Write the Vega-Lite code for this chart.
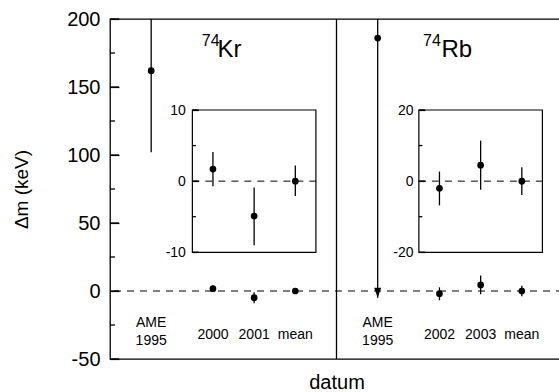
{
  "$schema": "https://vega.github.io/schema/vega-lite/v6.json",
  "width": 453,
  "height": 340,
  "autosize": {"type": "none"},
  "padding": {"left": 110, "top": 19, "right": 0, "bottom": 33},
  "config": {
    "font": "Liberation Sans",
    "view": {"stroke": "#000", "strokeWidth": 1.3},
    "axis": {"grid": false, "domain": false, "zindex": 1, "labelColor": "#000", "tickColor": "#000", "titleColor": "#000", "titleFontWeight": "normal", "labelFont": "Liberation Sans", "titleFont": "Liberation Sans", "tickWidth": 1.2}
  },
  "data": {"values": [{}]},
  "datasets": {
    "meas": [
      {"panel": "Kr", "label": "AME", "x": 1, "v": 162, "lo": 102, "hi": 222},
      {"panel": "Kr", "label": "2000", "x": 2.5, "v": 1.7, "lo": -0.7, "hi": 4.1},
      {"panel": "Kr", "label": "2001", "x": 3.5, "v": -4.9, "lo": -9, "hi": -0.9},
      {"panel": "Kr", "label": "mean", "x": 4.5, "v": 0, "lo": -2.1, "hi": 2.2},
      {"panel": "Rb", "label": "AME", "x": 6.5, "v": 186, "lo": -5, "hi": 380},
      {"panel": "Rb", "label": "2002", "x": 8, "v": -2, "lo": -6.8, "hi": 2.7},
      {"panel": "Rb", "label": "2003", "x": 9, "v": 4.5, "lo": -2.4, "hi": 11.4},
      {"panel": "Rb", "label": "mean", "x": 10, "v": 0, "lo": -3.9, "hi": 3.9}
    ],
    "yticks": [
      {"axis": "main", "tv": -50, "major": true},
      {"axis": "main", "tv": -25, "major": false},
      {"axis": "main", "tv": 0, "major": true},
      {"axis": "main", "tv": 25, "major": false},
      {"axis": "main", "tv": 50, "major": true},
      {"axis": "main", "tv": 75, "major": false},
      {"axis": "main", "tv": 100, "major": true},
      {"axis": "main", "tv": 125, "major": false},
      {"axis": "main", "tv": 150, "major": true},
      {"axis": "main", "tv": 175, "major": false},
      {"axis": "main", "tv": 200, "major": true},
      {"axis": "Kr", "tv": -10, "major": true},
      {"axis": "Kr", "tv": -5, "major": false},
      {"axis": "Kr", "tv": 0, "major": true},
      {"axis": "Kr", "tv": 5, "major": false},
      {"axis": "Kr", "tv": 10, "major": true},
      {"axis": "Rb", "tv": -20, "major": true},
      {"axis": "Rb", "tv": -10, "major": false},
      {"axis": "Rb", "tv": 0, "major": true},
      {"axis": "Rb", "tv": 10, "major": false},
      {"axis": "Rb", "tv": 20, "major": true}
    ],
    "labels": [
      {"kind": "cat", "x": 1, "y": -23.5, "text": "AME\n1995"},
      {"kind": "cat", "x": 2.5, "y": -32.4, "text": "2000"},
      {"kind": "cat", "x": 3.5, "y": -32.4, "text": "2001"},
      {"kind": "cat", "x": 4.5, "y": -32.4, "text": "mean"},
      {"kind": "cat", "x": 6.5, "y": -23.5, "text": "AME\n1995"},
      {"kind": "cat", "x": 8, "y": -32.4, "text": "2002"},
      {"kind": "cat", "x": 9, "y": -32.4, "text": "2003"},
      {"kind": "cat", "x": 10, "y": -32.4, "text": "mean"},
      {"kind": "big", "x": 2.61, "y": 172, "text": "Kr"},
      {"kind": "sup", "x": 2.23, "y": 180, "text": "74"},
      {"kind": "big", "x": 8.05, "y": 172, "text": "Rb"},
      {"kind": "sup", "x": 7.6, "y": 180, "text": "74"}
    ]
  },
  "layer": [
    {
      "layer": [
        {
          "mark": {"type": "rule", "strokeDash": [7, 6], "color": "#000", "strokeWidth": 1},
          "encoding": {
            "y": {"datum": 0, "type": "quantitative",
              "scale": {"domain": [-50, 200], "nice": false, "zero": false},
              "axis": {
                "values": [-50, 0, 50, 100, 150, 200],
                "labelExpr": "'' + datum.value",
                "labelFontSize": 20,
                "offset": -9,
                "tickSize": 9,
                "labelPadding": 10,
                "title": "Δm (keV)",
                "titleFontSize": 19,
                "titleX": -98,
                "titleY": 170,
                "titleAlign": "center",
                "titleBaseline": "middle",
                "titleAngle": -90
              }
            }
          }
        },
        {
          "mark": {"type": "rule", "color": "#000", "strokeWidth": 1.3},
          "encoding": {
            "x": {"datum": 5.5, "type": "quantitative",
              "scale": {"domain": [0, 11], "nice": false, "zero": false},
              "axis": {"title": "datum", "titleFontSize": 20, "labels": false, "ticks": false, "domain": false, "titlePadding": 13}
            }
          }
        },
        {
          "data": {"name": "yticks"},
          "transform": [{"filter": "datum.axis === 'main' && datum.major"}],
          "mark": {"type": "tick", "orient": "horizontal", "color": "#000", "size": 9, "thickness": 1.3, "opacity": 1},
          "encoding": {
            "x": {"datum": 0.109, "type": "quantitative"},
            "y": {"field": "tv", "type": "quantitative"}
          }
        },
        {
          "data": {"name": "yticks"},
          "transform": [{"filter": "datum.axis === 'main' && !datum.major"}],
          "mark": {"type": "tick", "orient": "horizontal", "color": "#000", "size": 5, "thickness": 1.3, "opacity": 1},
          "encoding": {
            "x": {"datum": 0.061, "type": "quantitative"},
            "y": {"field": "tv", "type": "quantitative"}
          }
        },
        {
          "data": {"name": "meas"},
          "mark": {"type": "rule", "clip": true, "strokeWidth": 1.3, "color": "#000"},
          "encoding": {
            "x": {"field": "x", "type": "quantitative"},
            "y": {"field": "lo", "type": "quantitative"},
            "y2": {"field": "hi"}
          }
        },
        {
          "data": {"name": "meas"},
          "mark": {"type": "point", "filled": true, "size": 45, "color": "#000", "opacity": 1},
          "encoding": {
            "x": {"field": "x", "type": "quantitative"},
            "y": {"field": "v", "type": "quantitative"}
          }
        },
        {
          "data": {"name": "meas"},
          "transform": [{"filter": "datum.label === 'AME' && datum.panel === 'Rb'"}],
          "mark": {"type": "point", "filled": true, "size": 100, "shape": "M-0.7,-2L0.7,-2L0,0Z", "color": "#000", "opacity": 1},
          "encoding": {
            "x": {"field": "x", "type": "quantitative"},
            "y": {"field": "lo", "type": "quantitative"}
          }
        },
        {
          "data": {"name": "labels"},
          "transform": [{"filter": "datum.kind === 'cat'"}],
          "mark": {"type": "text", "fontSize": 14, "align": "center", "baseline": "middle", "lineBreak": "\n", "lineHeight": 18, "color": "#000"},
          "encoding": {
            "x": {"field": "x", "type": "quantitative"},
            "y": {"field": "y", "type": "quantitative"},
            "text": {"field": "text"}
          }
        },
        {
          "data": {"name": "labels"},
          "transform": [{"filter": "datum.kind === 'big'"}],
          "mark": {"type": "text", "fontSize": 24, "align": "left", "baseline": "alphabetic", "color": "#000"},
          "encoding": {
            "x": {"field": "x", "type": "quantitative"},
            "y": {"field": "y", "type": "quantitative"},
            "text": {"field": "text"}
          }
        },
        {
          "data": {"name": "labels"},
          "transform": [{"filter": "datum.kind === 'sup'"}],
          "mark": {"type": "text", "fontSize": 16, "align": "left", "baseline": "alphabetic", "color": "#000"},
          "encoding": {
            "x": {"field": "x", "type": "quantitative"},
            "y": {"field": "y", "type": "quantitative"},
            "text": {"field": "text"}
          }
        }
      ]
    },
    {
      "layer": [
        {
          "mark": {"type": "rect", "fill": "transparent", "stroke": "#000", "strokeWidth": 1.2},
          "encoding": {
            "x": {"datum": 2, "type": "quantitative"},
            "x2": {"datum": 5},
            "y": {"datum": -10, "type": "quantitative",
              "scale": {"domain": [-10, 10], "range": [233.3, 91], "nice": false, "zero": false},
              "axis": {
                "orient": "left",
                "offset": -88.4,
                "values": [-10, 0, 10],
                "labelExpr": "'' + datum.value",
                "labelFontSize": 14,
                "tickSize": 6,
                "labelPadding": 7,
                "title": null
              }
            },
            "y2": {"datum": 10}
          }
        },
        {
          "data": {"name": "yticks"},
          "transform": [{"filter": "datum.axis === 'Kr' && datum.major"}],
          "mark": {"type": "tick", "orient": "horizontal", "color": "#000", "size": 6, "thickness": 1.3, "opacity": 1},
          "encoding": {
            "x": {"datum": 2.073, "type": "quantitative"},
            "y": {"field": "tv", "type": "quantitative"}
          }
        },
        {
          "data": {"name": "yticks"},
          "transform": [{"filter": "datum.axis === 'Kr' && !datum.major"}],
          "mark": {"type": "tick", "orient": "horizontal", "color": "#000", "size": 3.5, "thickness": 1.3, "opacity": 1},
          "encoding": {
            "x": {"datum": 2.042, "type": "quantitative"},
            "y": {"field": "tv", "type": "quantitative"}
          }
        },
        {
          "mark": {"type": "rule", "strokeDash": [7, 6], "color": "#000", "strokeWidth": 1},
          "encoding": {
            "x": {"datum": 2, "type": "quantitative"},
            "x2": {"datum": 5},
            "y": {"datum": 0, "type": "quantitative"}
          }
        },
        {
          "data": {"name": "meas"},
          "transform": [{"filter": "datum.panel === 'Kr' && datum.label !== 'AME'"}],
          "mark": {"type": "rule", "strokeWidth": 1.3, "color": "#000"},
          "encoding": {
            "x": {"field": "x", "type": "quantitative"},
            "y": {"field": "lo", "type": "quantitative"},
            "y2": {"field": "hi"}
          }
        },
        {
          "data": {"name": "meas"},
          "transform": [{"filter": "datum.panel === 'Kr' && datum.label !== 'AME'"}],
          "mark": {"type": "point", "filled": true, "size": 45, "color": "#000", "opacity": 1},
          "encoding": {
            "x": {"field": "x", "type": "quantitative"},
            "y": {"field": "v", "type": "quantitative"}
          }
        }
      ]
    },
    {
      "layer": [
        {
          "mark": {"type": "rect", "fill": "transparent", "stroke": "#000", "strokeWidth": 1.2},
          "encoding": {
            "x": {"datum": 7.5, "type": "quantitative"},
            "x2": {"datum": 10.5},
            "y": {"datum": -20, "type": "quantitative",
              "scale": {"domain": [-20, 20], "range": [233.3, 91], "nice": false, "zero": false},
              "axis": {
                "orient": "left",
                "offset": -315,
                "values": [-20, 0, 20],
                "labelExpr": "'' + datum.value",
                "labelFontSize": 14,
                "tickSize": 6,
                "labelPadding": 6,
                "title": null
              }
            },
            "y2": {"datum": 20}
          }
        },
        {
          "data": {"name": "yticks"},
          "transform": [{"filter": "datum.axis === 'Rb' && datum.major"}],
          "mark": {"type": "tick", "orient": "horizontal", "color": "#000", "size": 6, "thickness": 1.3, "opacity": 1},
          "encoding": {
            "x": {"datum": 7.573, "type": "quantitative"},
            "y": {"field": "tv", "type": "quantitative"}
          }
        },
        {
          "data": {"name": "yticks"},
          "transform": [{"filter": "datum.axis === 'Rb' && !datum.major"}],
          "mark": {"type": "tick", "orient": "horizontal", "color": "#000", "size": 3.5, "thickness": 1.3, "opacity": 1},
          "encoding": {
            "x": {"datum": 7.542, "type": "quantitative"},
            "y": {"field": "tv", "type": "quantitative"}
          }
        },
        {
          "mark": {"type": "rule", "strokeDash": [7, 6], "color": "#000", "strokeWidth": 1},
          "encoding": {
            "x": {"datum": 7.5, "type": "quantitative"},
            "x2": {"datum": 10.5},
            "y": {"datum": 0, "type": "quantitative"}
          }
        },
        {
          "data": {"name": "meas"},
          "transform": [{"filter": "datum.panel === 'Rb' && datum.label !== 'AME'"}],
          "mark": {"type": "rule", "strokeWidth": 1.3, "color": "#000"},
          "encoding": {
            "x": {"field": "x", "type": "quantitative"},
            "y": {"field": "lo", "type": "quantitative"},
            "y2": {"field": "hi"}
          }
        },
        {
          "data": {"name": "meas"},
          "transform": [{"filter": "datum.panel === 'Rb' && datum.label !== 'AME'"}],
          "mark": {"type": "point", "filled": true, "size": 45, "color": "#000", "opacity": 1},
          "encoding": {
            "x": {"field": "x", "type": "quantitative"},
            "y": {"field": "v", "type": "quantitative"}
          }
        }
      ]
    }
  ],
  "resolve": {"scale": {"y": "independent"}, "axis": {"y": "independent"}}
}
